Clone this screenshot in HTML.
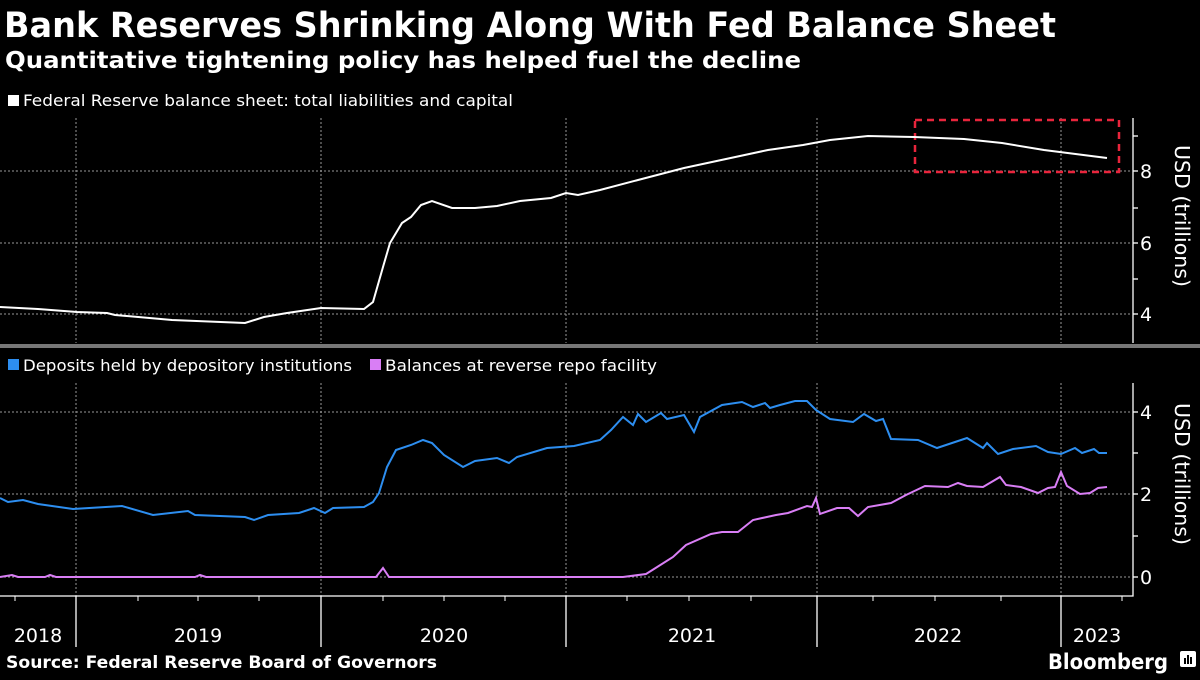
<!DOCTYPE html>
<html><head><meta charset="utf-8"><style>
body{margin:0;background:#000;width:1200px;height:675px;overflow:hidden}
</style></head><body>
<svg width="1200" height="675" viewBox="0 0 1200 675" xmlns="http://www.w3.org/2000/svg" font-family="DejaVu Sans, Liberation Sans, sans-serif">
<rect width="1200" height="675" fill="#000"/>
<text x="4" y="37" font-size="35" font-weight="bold" fill="#fff" textLength="1052" lengthAdjust="spacingAndGlyphs">Bank Reserves Shrinking Along With Fed Balance Sheet</text>
<text x="5" y="68" font-size="23" font-weight="bold" fill="#fff" textLength="796" lengthAdjust="spacingAndGlyphs">Quantitative tightening policy has helped fuel the decline</text>
<rect x="8" y="95" width="11" height="11" fill="#fff"/>
<text x="23" y="106" font-size="16" fill="#fff" textLength="490" lengthAdjust="spacingAndGlyphs">Federal Reserve balance sheet: total liabilities and capital</text>
<g stroke="#999" stroke-dasharray="2,2" stroke-width="1">
<line x1="0" y1="171" x2="1132" y2="171"/><line x1="0" y1="243" x2="1132" y2="243"/><line x1="0" y1="314" x2="1132" y2="314"/>
<line x1="0" y1="412" x2="1132" y2="412"/><line x1="0" y1="494" x2="1132" y2="494"/><line x1="0" y1="577" x2="1132" y2="577"/>
<line x1="76" y1="118" x2="76" y2="343"/><line x1="321" y1="118" x2="321" y2="343"/><line x1="566" y1="118" x2="566" y2="343"/><line x1="817" y1="118" x2="817" y2="343"/><line x1="1061" y1="118" x2="1061" y2="343"/>
<line x1="76" y1="383" x2="76" y2="596"/><line x1="321" y1="383" x2="321" y2="596"/><line x1="566" y1="383" x2="566" y2="596"/><line x1="817" y1="383" x2="817" y2="596"/><line x1="1061" y1="383" x2="1061" y2="596"/>
</g>
<g stroke="#fff" stroke-width="1.3" fill="none">
<line x1="1133" y1="118" x2="1133" y2="343"/>
<polyline points="0,596 1133,596 1133,383"/>
<line x1="1133" y1="136" x2="1138" y2="136"/><line x1="1133" y1="171" x2="1138" y2="171"/><line x1="1133" y1="208" x2="1138" y2="208"/><line x1="1133" y1="243" x2="1138" y2="243"/><line x1="1133" y1="279" x2="1138" y2="279"/><line x1="1133" y1="314" x2="1138" y2="314"/>
<line x1="1133" y1="412" x2="1138" y2="412"/><line x1="1133" y1="453" x2="1138" y2="453"/><line x1="1133" y1="494" x2="1138" y2="494"/><line x1="1133" y1="536" x2="1138" y2="536"/><line x1="1133" y1="577" x2="1138" y2="577"/>
<line x1="76" y1="596" x2="76" y2="647"/><line x1="321" y1="596" x2="321" y2="647"/><line x1="566" y1="596" x2="566" y2="647"/><line x1="817" y1="596" x2="817" y2="647"/><line x1="1061" y1="596" x2="1061" y2="647"/>
<g stroke-width="1"><line x1="15" y1="596" x2="15" y2="601"/><line x1="138" y1="596" x2="138" y2="601"/><line x1="198" y1="596" x2="198" y2="601"/><line x1="259" y1="596" x2="259" y2="601"/><line x1="383" y1="596" x2="383" y2="601"/><line x1="444" y1="596" x2="444" y2="601"/><line x1="505" y1="596" x2="505" y2="601"/><line x1="627" y1="596" x2="627" y2="601"/><line x1="689" y1="596" x2="689" y2="601"/><line x1="751" y1="596" x2="751" y2="601"/><line x1="873" y1="596" x2="873" y2="601"/><line x1="935" y1="596" x2="935" y2="601"/><line x1="1001" y1="596" x2="1001" y2="601"/><line x1="1122" y1="596" x2="1122" y2="601"/></g>
</g>
<rect x="0" y="344" width="1200" height="4" fill="#777"/>
<g font-size="19" fill="#fff">
<text x="1140" y="178">8</text><text x="1140" y="250">6</text><text x="1140" y="321">4</text>
<text x="1140" y="419">4</text><text x="1140" y="501">2</text><text x="1140" y="584">0</text>
</g>
<text transform="translate(1175,145) rotate(90)" font-size="20" fill="#fff" textLength="142" lengthAdjust="spacingAndGlyphs">USD (trillions)</text>
<text transform="translate(1175,403) rotate(90)" font-size="20" fill="#fff" textLength="142" lengthAdjust="spacingAndGlyphs">USD (trillions)</text>
<g font-size="19" fill="#fff" text-anchor="middle">
<text x="38" y="642">2018</text><text x="198" y="642">2019</text><text x="444" y="642">2020</text><text x="692" y="642">2021</text><text x="938" y="642">2022</text><text x="1097" y="642">2023</text>
</g>
<rect x="915" y="120" width="204" height="52" fill="none" stroke="#e8253c" stroke-width="2.5" stroke-dasharray="7,5"/>
<polyline fill="none" stroke="#fff" stroke-width="2" points="0,307 38,309 77,312 107,313 115,315 172,320 245,323 264,317 287,313 321,308 364,309 373,302 383,267 390,243 402,223 411,217 421,205 432,201 452,208 475,208 497,206 520,201 551,198 566,193 578,195 600,190 638,180 684,168 726,159 768,150 803,145 830,140 868,136 914,137 964,139 1002,143 1044,150 1107,158"/>
<rect x="8" y="359" width="11" height="11" fill="#2d8ef0"/>
<text x="23" y="371" font-size="16" fill="#fff" textLength="329" lengthAdjust="spacingAndGlyphs">Deposits held by depository institutions</text>
<rect x="370" y="359" width="11" height="11" fill="#d97ef5"/>
<text x="385" y="371" font-size="16" fill="#fff" textLength="272" lengthAdjust="spacingAndGlyphs">Balances at reverse repo facility</text>
<polyline fill="none" stroke="#2d8ef0" stroke-width="2" points="0,498 8,502 23,500 38,504 73,509 122,506 153,515 188,511 195,515 245,517 254,520 268,515 299,513 314,508 325,513 333,508 364,507 373,502 379,493 387,467 396,450 411,445 423,440 432,443 444,455 463,467 475,461 497,458 509,463 517,457 547,448 574,446 600,440 611,430 623,417 633,425 638,414 646,422 661,413 667,419 684,415 694,432 700,417 722,405 742,402 753,407 765,403 770,408 780,405 795,401 807,401 816,410 830,419 853,422 864,414 876,421 883,419 891,439 918,440 937,448 967,438 983,448 987,443 998,454 1013,449 1036,446 1048,452 1061,454 1075,448 1082,453 1094,449 1099,453 1107,453"/>
<polyline fill="none" stroke="#d97ef5" stroke-width="2" points="0,577 12,575 18,577 45,577 50,575 56,577 195,577 200,575 206,577 376,577 383,568 389,577 623,577 646,574 654,569 673,557 686,545 711,534 722,532 738,532 753,520 776,515 788,513 807,506 812,507 816,498 820,514 837,508 849,508 858,516 868,507 891,503 906,495 925,486 948,487 958,483 967,486 983,487 1000,477 1006,485 1021,487 1038,493 1048,488 1055,487 1061,472 1067,486 1080,494 1090,493 1098,488 1107,487"/>
<text x="6" y="668" font-size="17" font-weight="bold" fill="#fff" textLength="431" lengthAdjust="spacingAndGlyphs">Source: Federal Reserve Board of Governors</text>
<text x="1048" y="669" font-size="21" font-weight="bold" fill="#fff" textLength="120" lengthAdjust="spacingAndGlyphs">Bloomberg</text>
<rect x="1180" y="651" width="16" height="16" rx="2" fill="#fff"/>
<g fill="#000"><rect x="1184" y="658" width="2" height="6"/><rect x="1187" y="655" width="2" height="9"/><rect x="1190" y="657" width="2" height="7"/></g>
</svg>
</body></html>
